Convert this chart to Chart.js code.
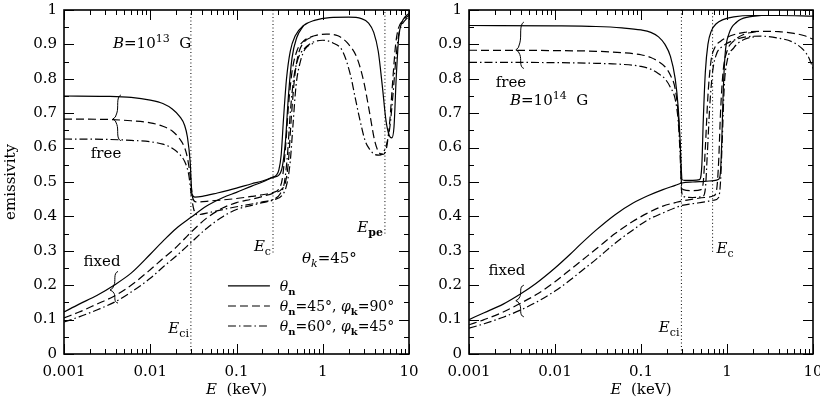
<!DOCTYPE html>
<html><head><meta charset="utf-8">
<script src="https://cdn.jsdelivr.net/npm/chart.js@4.4.1/dist/chart.umd.min.js"></script>
<style>
html,body{margin:0;padding:0;background:#fff;overflow:hidden}
#wrap{position:relative;width:820px;height:407px;overflow:hidden;background:#fff}
canvas{position:absolute;top:0}
</style></head><body>
<div id="wrap"><canvas id="c1" width="430" height="407" style="left:0"></canvas><canvas id="c2" width="420" height="407" style="left:410px"></canvas></div>
<script>
// ---------- tick labels ----------
const X_TICKS = [0.001, 0.01, 0.1, 1, 10];
const Y_MIN = 0, Y_MAX = 1, Y_STEP = 0.1;

// ---------- left panel, B = 1e13 G ----------
const L_FREE_SOLID_E = [0.001,0.003,0.006,0.01,0.014,0.018,0.022,0.025,0.027,0.029,0.0305,0.033,0.04,0.06,0.1,0.15,0.2,0.26,0.29,0.31,0.33,0.35,0.38,0.42,0.48,0.6,0.8,1.2,2,2.8,3.4,3.9,4.4,4.9,5.4,5.9,6.3,6.7,7.1,7.6,8.3,9,10];
const L_FREE_SOLID_Y = [0.75,0.749,0.746,0.738,0.728,0.712,0.69,0.665,0.63,0.56,0.465,0.456,0.458,0.468,0.482,0.495,0.503,0.514,0.52,0.535,0.58,0.68,0.8,0.88,0.925,0.955,0.97,0.978,0.979,0.975,0.962,0.935,0.88,0.78,0.68,0.635,0.628,0.66,0.8,0.92,0.965,0.98,0.99];
const L_FREE_DASH_E = [0.001,0.003,0.006,0.01,0.014,0.018,0.022,0.025,0.027,0.029,0.031,0.034,0.05,0.1,0.15,0.2,0.27,0.31,0.34,0.37,0.4,0.44,0.5,0.6,0.8,1.1,1.5,2,2.5,3,3.5,4,4.5,5,5.5,6,6.5,7,7.5,8.5,10];
const L_FREE_DASH_Y = [0.683,0.682,0.678,0.672,0.662,0.648,0.625,0.6,0.57,0.52,0.455,0.442,0.445,0.452,0.458,0.463,0.47,0.48,0.51,0.6,0.72,0.82,0.88,0.91,0.925,0.93,0.925,0.9,0.86,0.79,0.7,0.62,0.585,0.58,0.6,0.68,0.8,0.9,0.945,0.97,0.985];
const L_FREE_DDOT_E = [0.001,0.003,0.006,0.01,0.014,0.018,0.022,0.025,0.028,0.03,0.032,0.035,0.05,0.07,0.1,0.15,0.2,0.27,0.32,0.36,0.39,0.42,0.46,0.52,0.6,0.75,1,1.3,1.7,2.1,2.4,2.7,3.1,3.5,4,4.5,5,5.5,6,6.5,7,7.5,8.2,9,10];
const L_FREE_DDOT_Y = [0.625,0.624,0.621,0.617,0.61,0.598,0.58,0.56,0.52,0.46,0.42,0.405,0.412,0.42,0.428,0.436,0.442,0.45,0.465,0.5,0.58,0.7,0.8,0.86,0.885,0.905,0.912,0.905,0.88,0.81,0.74,0.68,0.62,0.595,0.58,0.578,0.585,0.61,0.66,0.75,0.85,0.92,0.955,0.97,0.98];
const L_FIX_SOLID_E = [0.001,0.0015,0.0024,0.0038,0.006,0.01,0.0144,0.02,0.03,0.045,0.07,0.1,0.15,0.2,0.27,0.31,0.34,0.37,0.4,0.44,0.5,0.6];
const L_FIX_SOLID_Y = [0.122,0.145,0.17,0.2,0.235,0.29,0.331,0.365,0.398,0.43,0.455,0.47,0.488,0.5,0.514,0.52,0.545,0.62,0.75,0.86,0.92,0.955];
const L_FIX_DASH_E = [0.001,0.0015,0.0024,0.0038,0.006,0.01,0.0144,0.019,0.025,0.03,0.045,0.07,0.1,0.15,0.2,0.27,0.33,0.37,0.4,0.43,0.47,0.52,0.6,0.8];
const L_FIX_DASH_Y = [0.105,0.122,0.145,0.168,0.2,0.245,0.28,0.305,0.335,0.355,0.395,0.425,0.44,0.45,0.458,0.468,0.478,0.5,0.56,0.68,0.8,0.87,0.905,0.925];
const L_FIX_DDOT_E = [0.001,0.0015,0.0024,0.0038,0.006,0.01,0.0144,0.02,0.03,0.045,0.07,0.1,0.15,0.2,0.27,0.34,0.38,0.42,0.45,0.49,0.55,0.62,0.8];
const L_FIX_DDOT_Y = [0.093,0.108,0.128,0.15,0.18,0.22,0.255,0.285,0.325,0.365,0.4,0.42,0.432,0.44,0.448,0.462,0.49,0.56,0.66,0.78,0.85,0.885,0.905];
// characteristic energies (keV) and lower end of their dotted markers
const L_MARK_E = [0.0296, 0.265, 5.26];
const L_MARK_Y0 = [0, 0.295, 0.35];

// ---------- right panel, B = 1e14 G ----------
const R_FREE_SOLID_E = [0.001,0.01,0.03,0.06,0.1,0.13,0.16,0.19,0.22,0.25,0.27,0.285,0.295,0.3,0.32,0.4,0.48,0.51,0.53,0.56,0.6,0.66,0.75,0.9,1.2,2,4,10];
const R_FREE_SOLID_Y = [0.955,0.954,0.952,0.948,0.942,0.935,0.922,0.9,0.865,0.8,0.72,0.62,0.53,0.507,0.505,0.505,0.507,0.55,0.68,0.82,0.9,0.94,0.96,0.972,0.98,0.984,0.984,0.982];
const R_FREE_DASH_E = [0.001,0.01,0.03,0.06,0.1,0.13,0.16,0.19,0.22,0.25,0.27,0.285,0.295,0.31,0.4,0.5,0.53,0.56,0.6,0.65,0.72,0.85,1.1,1.6,2.5,4,6,8,10];
const R_FREE_DASH_Y = [0.883,0.882,0.88,0.876,0.87,0.862,0.85,0.835,0.81,0.77,0.7,0.6,0.5,0.478,0.475,0.478,0.5,0.6,0.75,0.85,0.89,0.91,0.925,0.935,0.938,0.937,0.932,0.925,0.915];
const R_FREE_DDOT_E = [0.001,0.01,0.03,0.06,0.1,0.13,0.16,0.19,0.22,0.25,0.27,0.285,0.295,0.31,0.4,0.52,0.56,0.59,0.63,0.68,0.75,0.9,1.2,1.7,2.5,4,6,8,9,10];
const R_FREE_DDOT_Y = [0.848,0.847,0.845,0.842,0.836,0.828,0.815,0.8,0.775,0.74,0.68,0.58,0.48,0.458,0.455,0.458,0.48,0.58,0.72,0.82,0.87,0.895,0.912,0.922,0.924,0.918,0.905,0.88,0.86,0.83];
const R_FIX_SOLID_E = [0.001,0.0015,0.0025,0.004,0.006,0.01,0.015,0.02,0.03,0.05,0.08,0.12,0.18,0.25,0.3,0.4,0.55,0.7,0.8,0.84,0.87,0.9,0.95,1.05,1.3,1.8,2.5];
const R_FIX_SOLID_Y = [0.1,0.12,0.145,0.175,0.205,0.25,0.29,0.32,0.36,0.405,0.438,0.46,0.478,0.49,0.497,0.5,0.502,0.504,0.508,0.53,0.62,0.75,0.87,0.93,0.965,0.98,0.984];
const R_FIX_DASH_E = [0.001,0.0015,0.0025,0.004,0.006,0.01,0.015,0.02,0.03,0.05,0.08,0.12,0.18,0.25,0.3,0.4,0.55,0.7,0.76,0.8,0.84,0.9,1,1.2,1.6,2.2];
const R_FIX_DASH_Y = [0.085,0.1,0.122,0.148,0.172,0.21,0.245,0.27,0.305,0.35,0.385,0.41,0.43,0.44,0.445,0.45,0.455,0.46,0.48,0.56,0.7,0.82,0.88,0.91,0.93,0.937];
const R_FIX_DDOT_E = [0.001,0.0015,0.0025,0.004,0.006,0.01,0.015,0.02,0.03,0.05,0.08,0.12,0.18,0.25,0.3,0.4,0.55,0.7,0.8,0.84,0.88,0.93,1,1.2,1.6,2.2];
const R_FIX_DDOT_Y = [0.075,0.088,0.107,0.128,0.15,0.183,0.215,0.24,0.275,0.322,0.36,0.39,0.41,0.425,0.432,0.437,0.442,0.447,0.455,0.5,0.62,0.78,0.85,0.89,0.915,0.923];
const R_MARK_E = [0.295, 0.68];
const R_MARK_Y0 = [0, 0.297];

// ---------- styles ----------
const SOLID = [], DASH = [8, 4], DDOT = [8, 3, 1.5, 3], DOT = [1, 2.5];
const FAM = '"DejaVu Serif", serif';

function fontFor(seg, base) {
  const size = seg.s ? base - 4 : base;
  return (seg.f === 'i' ? 'italic ' : '') + (seg.f === 'b' ? 'bold ' : '') + size + 'px ' + FAM;
}
function rich(ctx, segs, x, y, align, base) {
  base = base || 15;
  let w = 0;
  segs.forEach(s => { ctx.font = fontFor(s, base); w += ctx.measureText(s.t).width; });
  let cx = align === 'right' ? x - w : align === 'center' ? x - w / 2 : x;
  ctx.textBaseline = 'alphabetic'; ctx.textAlign = 'left'; ctx.fillStyle = '#000';
  segs.forEach(s => {
    ctx.font = fontFor(s, base);
    const dy = s.s === 1 ? 4 : s.s === -1 ? -6 : 0;
    ctx.fillText(s.t, cx, y + dy);
    cx += ctx.measureText(s.t).width;
  });
}
function brace(ctx, x, yt, ym, yb) {
  const w = 4, q1 = ym - yt, q2 = yb - ym;
  ctx.beginPath();
  ctx.moveTo(x + w, yt);
  ctx.bezierCurveTo(x - 1, yt + q1 * 0.1, x + 2, yt + q1 * 0.5, x, ym - q1 * 0.25);
  ctx.quadraticCurveTo(x - 1, ym - 1, x - w, ym);
  ctx.quadraticCurveTo(x - 1, ym + 1, x, ym + q2 * 0.25);
  ctx.bezierCurveTo(x + 2, yb - q2 * 0.5, x - 1, yb - q2 * 0.1, x + w, yb);
  ctx.stroke();
}

function makeDecor(deco) {
  return {
    id: 'decor',
    afterDraw(chart) {
      const ctx = chart.ctx, xs = chart.scales.x, ys = chart.scales.y, a = chart.chartArea;
      const px = v => xs.getPixelForValue(v), py = v => ys.getPixelForValue(v);
      ctx.save();
      ctx.strokeStyle = '#000';
      ctx.lineWidth = 1.6;
      ctx.strokeRect(a.left, a.top, a.right - a.left, a.bottom - a.top);
      ctx.lineWidth = 1;
      ctx.beginPath();
      for (let d = 0; d < X_TICKS.length; d++) {
        const dec = X_TICKS[d];
        const xm = Math.round(px(dec)) + 0.5;
        ctx.moveTo(xm, a.bottom); ctx.lineTo(xm, a.bottom - 10);
        ctx.moveTo(xm, a.top); ctx.lineTo(xm, a.top + 10);
        if (d < X_TICKS.length - 1) {
          for (let k = 2; k <= 9; k++) {
            const xx = Math.round(px(dec * k)) + 0.5;
            ctx.moveTo(xx, a.bottom); ctx.lineTo(xx, a.bottom - 5);
            ctx.moveTo(xx, a.top); ctx.lineTo(xx, a.top + 5);
          }
        }
      }
      for (let i = 0; i <= 20; i++) {
        const yy = Math.round(py(i * 0.05)) + 0.5;
        const len = i % 2 ? 5 : 10;
        ctx.moveTo(a.left, yy); ctx.lineTo(a.left + len, yy);
        ctx.moveTo(a.right, yy); ctx.lineTo(a.right - len, yy);
      }
      ctx.stroke();
      // axis titles
      rich(ctx, [{t: 'E', f: 'i'}, {t: '  (keV)'}], (a.left + a.right) / 2, 394, 'center');
      if (deco.ytitle) {
        ctx.save();
        ctx.translate(15, (a.top + a.bottom) / 2);
        ctx.rotate(-Math.PI / 2);
        rich(ctx, [{t: 'emissivity'}], 0, 0, 'center');
        ctx.restore();
      }
      // texts
      deco.texts.forEach(t => {
        let x = px(t.x) + (t.dx || 0);
        rich(ctx, t.segs, x, py(t.y), t.align || 'left');
      });
      // braces
      ctx.lineWidth = 1;
      deco.braces.forEach(b => brace(ctx, px(b[0]), py(b[1]), py(b[2]), py(b[3])));
      // legend
      if (deco.legend) {
        const L = deco.legend;
        L.items.forEach(it => {
          const yy = py(it.y);
          ctx.beginPath();
          ctx.setLineDash(it.dash);
          ctx.lineWidth = 1.2;
          ctx.moveTo(px(L.x0), yy); ctx.lineTo(px(L.x1), yy);
          ctx.stroke();
          ctx.setLineDash([]);
          rich(ctx, it.segs, px(L.xt), yy + 5, 'left', 14);
        });
      }
      ctx.restore();
    }
  };
}

function build(id, series, markE, markY0, yWidth, padRight, deco) {
  const datasets = series.map(s => ({
    data: s[0].map((e, i) => ({x: e, y: s[1][i]})),
    borderColor: '#000', borderWidth: 1.2, borderDash: s[2],
    pointRadius: 0, fill: false, cubicInterpolationMode: 'monotone'
  }));
  markE.forEach((e, i) => datasets.push({
    data: [{x: e, y: markY0[i]}, {x: e, y: Y_MAX}],
    borderColor: '#000', borderWidth: 1, borderDash: DOT, pointRadius: 0, fill: false, tension: 0
  }));
  return new Chart(document.getElementById(id), {
    type: 'line',
    data: {datasets},
    options: {
      responsive: false, animation: false, devicePixelRatio: 1,
      layout: {padding: {left: 0, top: 10, right: padRight, bottom: 0}},
      plugins: {legend: {display: false}, tooltip: {enabled: false}},
      scales: {
        x: {
          type: 'logarithmic', min: X_TICKS[0], max: X_TICKS[X_TICKS.length - 1],
          grid: {display: false, drawTicks: false}, border: {display: false},
          afterBuildTicks: sc => { sc.ticks = X_TICKS.map(v => ({value: v, major: true})); },
          afterFit: sc => { sc.height = 53; sc.paddingLeft = 0; sc.paddingRight = 0; },
          ticks: {autoSkip: false, maxRotation: 0, padding: 9, color: '#000',
            font: {family: FAM, size: 15},
            callback: v => String(v < 1 ? +v.toPrecision(1) : v)}
        },
        y: {
          type: 'linear', min: Y_MIN, max: Y_MAX,
          grid: {display: false, drawTicks: false}, border: {display: false},
          afterFit: sc => { sc.width = yWidth; sc.paddingTop = 0; sc.paddingBottom = 0; },
          ticks: {stepSize: Y_STEP, padding: 7, color: '#000', font: {family: FAM, size: 15},
            callback: v => String(+v.toFixed(1))}
        }
      }
    },
    plugins: [makeDecor(deco)]
  });
}

const theta = [{t: 'θ', f: 'i'}, {t: 'n', f: 'b', s: 1}];
build('c1', [
  [L_FREE_SOLID_E, L_FREE_SOLID_Y, SOLID],
  [L_FREE_DASH_E, L_FREE_DASH_Y, DASH],
  [L_FREE_DDOT_E, L_FREE_DDOT_Y, DDOT],
  [L_FIX_SOLID_E, L_FIX_SOLID_Y, SOLID],
  [L_FIX_DASH_E, L_FIX_DASH_Y, DASH],
  [L_FIX_DDOT_E, L_FIX_DDOT_Y, DDOT]
], L_MARK_E, L_MARK_Y0, 64, 21, {
  ytitle: true,
  texts: [
    {x: 0.0037, y: 0.89, segs: [{t: 'B', f: 'i'}, {t: '=10'}, {t: '13', s: -1}, {t: '  G'}]},
    {x: 0.00307, y: 0.57, align: 'center', segs: [{t: 'free'}]},
    {x: 0.00276, y: 0.256, align: 'center', segs: [{t: 'fixed'}]},
    {x: L_MARK_E[1], dx: -2, y: 0.3, align: 'right', segs: [{t: 'E', f: 'i'}, {t: 'c', s: 1}]},
    {x: L_MARK_E[0], dx: -2, y: 0.061, align: 'right', segs: [{t: 'E', f: 'i'}, {t: 'ci', s: 1}]},
    {x: L_MARK_E[2], dx: -2, y: 0.355, align: 'right', segs: [{t: 'E', f: 'i'}, {t: 'pe', f: 'b', s: 1}]},
    {x: 0.575, y: 0.265, segs: [{t: 'θ', f: 'i'}, {t: 'k', f: 'i', s: 1}, {t: '=45°'}]}
  ],
  braces: [[0.0041, 0.753, 0.683, 0.62], [0.0038, 0.24, 0.186, 0.148]],
  legend: {x0: 0.0796, x1: 0.244, xt: 0.318, items: [
    {y: 0.198, dash: SOLID, segs: theta},
    {y: 0.1395, dash: DASH, segs: theta.concat([{t: '=45°, '}, {t: 'φ', f: 'i'}, {t: 'k', f: 'b', s: 1}, {t: '=90°'}])},
    {y: 0.0814, dash: DDOT, segs: theta.concat([{t: '=60°, '}, {t: 'φ', f: 'i'}, {t: 'k', f: 'b', s: 1}, {t: '=45°'}])}
  ]}
});

build('c2', [
  [R_FREE_SOLID_E, R_FREE_SOLID_Y, SOLID],
  [R_FREE_DASH_E, R_FREE_DASH_Y, DASH],
  [R_FREE_DDOT_E, R_FREE_DDOT_Y, DDOT],
  [R_FIX_SOLID_E, R_FIX_SOLID_Y, SOLID],
  [R_FIX_DASH_E, R_FIX_DASH_Y, DASH],
  [R_FIX_DDOT_E, R_FIX_DDOT_Y, DDOT]
], R_MARK_E, R_MARK_Y0, 59, 17, {
  ytitle: false,
  texts: [
    {x: 0.00307, y: 0.776, align: 'center', segs: [{t: 'free'}]},
    {x: 0.003, y: 0.724, segs: [{t: 'B', f: 'i'}, {t: '=10'}, {t: '14', s: -1}, {t: '  G'}]},
    {x: 0.00276, y: 0.23, align: 'center', segs: [{t: 'fixed'}]},
    {x: R_MARK_E[1], dx: 4, y: 0.294, segs: [{t: 'E', f: 'i'}, {t: 'c', s: 1}]},
    {x: R_MARK_E[0], dx: -2, y: 0.064, align: 'right', segs: [{t: 'E', f: 'i'}, {t: 'ci', s: 1}]}
  ],
  braces: [[0.0039, 0.965, 0.884, 0.83], [0.0039, 0.2, 0.155, 0.108]],
  legend: null
});
</script>
</body></html>
